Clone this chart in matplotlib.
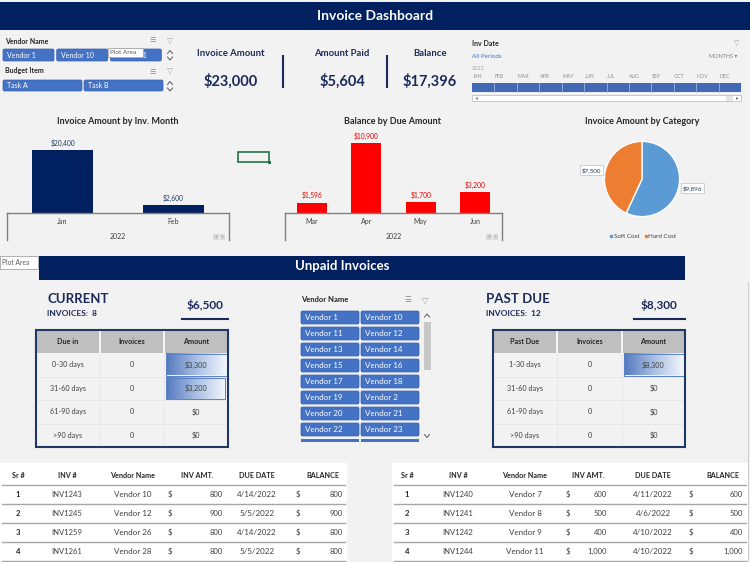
import numpy as np
import matplotlib
matplotlib.use('Agg')
import matplotlib.pyplot as plt
from matplotlib.patches import Rectangle, FancyBboxPatch
from matplotlib.colors import LinearSegmentedColormap

plt.rcParams['font.family'] = ['Lato', 'DejaVu Sans']

# ---------------- data ----------------
dashboard_title = 'Invoice Dashboard'
section_title = 'Unpaid Invoices'
kpi_labels = ['Invoice Amount', 'Amount Paid', 'Balance']
kpi_values = [23000, 5604, 17396]

top_vendor_buttons = ['Vendor 1', 'Vendor 10', 'Vendor 11']
budget_items = ['Task A', 'Task B']
timeline_year = '2022'
timeline_months = ['JAN', 'FEB', 'MAR', 'APR', 'MAY', 'JUN',
                   'JUL', 'AUG', 'SEP', 'OCT', 'NOV', 'DEC']

inv_months = ['Jan', 'Feb']
inv_amounts = [20400, 2600]
due_months = ['Mar', 'Apr', 'May', 'Jun']
due_amounts = [1596, 10900, 1700, 3200]
chart_year = '2022'
categories = ['Soft Cost', 'Hard Cost']
category_amounts = [9896, 7500]

current_buckets = ['0-30 days', '31-60 days', '61-90 days', '>90 days']
current_invoices = [0, 0, 0, 0]
current_amounts = [3300, 3200, 0, 0]
current_total = 6500
current_count = 8
past_buckets = ['1-30 days', '31-60 days', '61-90 days', '>90 days']
past_invoices = [0, 0, 0, 0]
past_amounts = [8300, 0, 0, 0]
past_total = 8300
past_count = 12

slicer_vendors = ['Vendor 1', 'Vendor 10', 'Vendor 11', 'Vendor 12',
                  'Vendor 13', 'Vendor 14', 'Vendor 15', 'Vendor 16',
                  'Vendor 17', 'Vendor 18', 'Vendor 19', 'Vendor 2',
                  'Vendor 20', 'Vendor 21', 'Vendor 22', 'Vendor 23']

table_columns = ['Sr #', 'INV #', 'Vendor Name', 'INV AMT.', 'DUE DATE', 'BALANCE']
cur_sr = [1, 2, 3, 4]
cur_inv = ['INV1243', 'INV1245', 'INV1259', 'INV1261']
cur_vendor = ['Vendor 10', 'Vendor 12', 'Vendor 26', 'Vendor 28']
cur_amt = [800, 900, 800, 800]
cur_due = ['4/14/2022', '5/5/2022', '4/14/2022', '5/5/2022']
cur_bal = [800, 900, 800, 800]
past_sr = [1, 2, 3, 4]
past_inv = ['INV1240', 'INV1241', 'INV1242', 'INV1244']
past_vendor = ['Vendor 7', 'Vendor 8', 'Vendor 9', 'Vendor 11']
past_amt = [600, 500, 400, 1000]
past_due = ['4/11/2022', '4/6/2022', '4/10/2022', '4/10/2022']
past_bal = [600, 500, 400, 1000]

# ---------------- styles ----------------
NAVY = '#002060'
KPI_C = '#1C2A5A'
BTN = '#4472C4'
BG = '#F2F2F2'
W, H = 750, 562

fig = plt.figure(figsize=(7.5, 5.62), dpi=100, facecolor=BG)
bg = fig.add_axes([0, 0, 1, 1])
bg.set_facecolor(BG)
bg.axis('off')


def ax_at(x0, y0, x1, y1):
    a = fig.add_axes([x0 / W, 1 - y1 / H, (x1 - x0) / W, (y1 - y0) / H])
    a.set_facecolor('none')
    return a


def rect(x0, y0, x1, y1, fc, ec='none', lw=0, z=1):
    p = Rectangle((x0, y0), x1 - x0, y1 - y0, facecolor=fc,
                  edgecolor=ec, linewidth=lw, zorder=z)
    bg.add_patch(p)
    return p


def txt(x, y, s, size=6, color='#262626', weight='normal', ha='center', va='center', z=5):
    return bg.text(x, y, s, fontsize=size, color=color, fontweight=weight,
                   ha=ha, va=va, zorder=z)


def button(x0, y0, x1, y1, label, size=5.0):
    bg.add_patch(FancyBboxPatch((x0, y0), x1 - x0, y1 - y0,
                                boxstyle='round,pad=0,rounding_size=1.5',
                                facecolor=BTN, edgecolor='#3A63AE', linewidth=0.5, zorder=3))
    return txt(x0 + 4, (y0 + y1) / 2, label, size, 'white', ha='left', z=4)


def chevron(x, y, up=True, color='#595959'):
    d = -1 if up else 1
    bg.plot([x - 2.5, x, x + 2.5], [y - d * 1.5, y + d * 1.5, y - d * 1.5],
            color=color, lw=0.7, zorder=4)


# ---------------- top title bar ----------------
rect(0, 2, W, 30, NAVY)
txt(375, 16, dashboard_title, 10, 'white', 'bold')

# ---------------- top slicers ----------------
txt(5, 41, 'Vendor Name', 5, '#262626', 'bold', ha='left')
txt(153, 40, '☰', 5, '#8C8C8C')
txt(170, 40, '▽', 5.5, '#A6A6A6')
for i, v in enumerate(top_vendor_buttons):
    x0 = 3 + i * 53.7
    t = button(x0, 49, x0 + 51, 61, v, 5.0)
    if i == 2:
        # the part of this label lying under the tooltip is hidden
        clip = Rectangle((143.5, 44), 25, 20, transform=bg.transData)
        t.set_clip_path(clip)
chevron(170, 52, True)
chevron(170, 58.5, False)
rect(108, 48, 143, 57, 'white', ec='#A6A6A6', lw=0.6, z=8)
txt(110.5, 52.5, 'Plot Area', 4.6, '#595959', ha='left', z=9)

txt(5, 71, 'Budget Item', 5, '#262626', 'bold', ha='left')
txt(153, 71, '☰', 5, '#8C8C8C')
txt(170, 71, '▽', 5.5, '#A6A6A6')
for i, v in enumerate(budget_items):
    x0 = 3 + i * 81
    button(x0, 80, x0 + 79, 91, v, 5.0)
chevron(170, 83, True)
chevron(170, 89.5, False)

# ---------------- KPIs ----------------
kpi_x = [231, 342, 430]
for x, lab, val in zip(kpi_x, kpi_labels, kpi_values):
    txt(x, 54, lab, 6.8, KPI_C, 'bold')
    txt(x, 81, f'${val:,}', 10.5, KPI_C, 'bold')
for x in [283, 387]:
    bg.plot([x, x], [56, 87], color=KPI_C, lw=1.5, zorder=3)

# ---------------- timeline ----------------
txt(472, 44, 'Inv Date', 5, '#262626', 'bold', ha='left')
txt(737, 43, '▽', 5, '#A6A6A6')
txt(472, 57, 'All Periods', 4.5, BTN, ha='left')
txt(737, 57, 'MONTHS ▾', 4, '#7F7F7F', ha='right')
txt(472, 68, timeline_year, 4, '#A6A6A6', ha='left')
tl0, tl1 = 472, 741
seg = (tl1 - tl0) / len(timeline_months)
for i, m in enumerate(timeline_months):
    txt(tl0 + i * seg + 0.5, 77, m, 3.7, '#8C8C8C', ha='left')
rect(tl0, 83, tl1, 92, '#4169B5', z=2)
for i in range(1, len(timeline_months)):
    bg.plot([tl0 + i * seg] * 2, [83, 92], color='#9DB3DD', lw=0.6, zorder=3)
rect(tl0, 95, tl1, 101, 'white', ec='#BFBFBF', lw=0.6, z=2)
txt(476, 98, '◂', 4, '#7F7F7F', z=3)
txt(737, 98, '▸', 4, '#7F7F7F', z=3)
rect(726, 95.5, 733, 100.5, '#E6E6E6', z=3)

# ---------------- chart titles ----------------
txt(118, 121, 'Invoice Amount by Inv. Month', 6.5, '#262626', 'bold')
txt(393, 121, 'Balance by Due Amount', 6.5, '#262626', 'bold')
txt(642, 121, 'Invoice Amount by Category', 6.5, '#262626', 'bold')

# selected cell marker
rect(238, 152, 269, 162, 'none', ec='#217346', lw=1.2, z=3)
rect(267.5, 160.5, 270.5, 163.5, '#217346', z=4)


def bar_chart(ax, cats, vals, color, label_color, headroom):
    x = np.arange(len(cats))
    ax.bar(x, vals, width=0.55, color=color, zorder=2)
    ax.set_xlim(-0.5, len(cats) - 0.5)
    ax.set_ylim(0, max(vals) * headroom)
    for xi, v in zip(x, vals):
        ax.annotate(f'${v:,}', (xi, v), xytext=(0, 2.5), textcoords='offset points',
                    ha='center', va='bottom', fontsize=4.8, color=label_color)
    for s in ['top', 'right', 'left']:
        ax.spines[s].set_visible(False)
    ax.spines['bottom'].set_color('#7F7F7F')
    ax.spines['bottom'].set_linewidth(1)
    ax.set_yticks([])
    ax.set_xticks(x, cats)
    ax.tick_params(axis='x', length=0, pad=3.5, labelsize=5, labelcolor='#404040')
    for xe in [0, 1]:
        ax.plot([xe, xe], [0, -0.325], transform=ax.transAxes, clip_on=False,
                color='#7F7F7F', lw=1)
    ax.text(0.5, -0.28, chart_year, transform=ax.transAxes, ha='center', va='center',
            fontsize=5, color='#404040')


ax1 = ax_at(7, 130, 229, 213)
bar_chart(ax1, inv_months, inv_amounts, NAVY, '#1F3864', 1.32)
ax2 = ax_at(285, 130, 502, 213)
bar_chart(ax2, due_months, due_amounts, '#FF0000', '#E00000', 1.186)

for bx in [213, 486]:
    rect(bx, 234, bx + 5.5, 240, '#D9D9D9', z=3)
    rect(bx + 6.5, 234, bx + 12, 240, '#D9D9D9', z=3)
    txt(bx + 2.75, 237, '+', 3.5, '#7F7F7F', z=4)
    txt(bx + 9.25, 237, '−', 3.5, '#7F7F7F', z=4)

# pie
axp = ax_at(642 - 47, 179 - 47, 642 + 47, 179 + 47)
wedges, texts = axp.pie(category_amounts, labels=[f'${v:,}' for v in category_amounts],
                        colors=['#5B9BD5', '#ED7D31'], startangle=90, counterclock=False,
                        labeldistance=1.1,
                        wedgeprops=dict(edgecolor='white', linewidth=1),
                        textprops=dict(fontsize=4.5, color='#1F3864'))
for t in texts:
    t.set_bbox(dict(boxstyle='square,pad=0.3', facecolor='white', edgecolor='#BFBFBF', linewidth=0.5))
axp.set_xlim(-1.25, 1.25)
axp.set_ylim(-1.25, 1.25)
leg_x = [611, 645.5]
for lx, cat, col in zip(leg_x, categories, ['#5B9BD5', '#ED7D31']):
    bg.plot([lx], [236], marker='o', ms=1.6, color=col, zorder=4)
    txt(lx + 3, 236, cat, 4.5, '#404040', ha='left')

# ---------------- unpaid invoices bar ----------------
rect(39, 256, 685, 280, NAVY)
txt(342, 266, section_title, 9.5, 'white', 'bold')
rect(0, 256, 38, 269, 'white', ec='#A6A6A6', lw=0.6, z=8)
txt(2, 262.5, 'Plot Area', 4.8, '#595959', ha='left', z=9)
bg.plot([748, 748], [282, 562], color='#D0D0D0', lw=0.8, zorder=1)

grad_cmap = LinearSegmentedColormap.from_list('db', ['#5479BF', '#A9BFE3', '#F4F7FC'])
grad = np.linspace(0, 1, 256).reshape(1, -1)


def bucket_table(x0, x1, cols, header, buckets, counts, amounts):
    y0, yh, y1 = 330, 353, 447
    rect(x0, y0, x1, yh, '#BFBFBF', z=2)
    for c in cols:
        bg.plot([c, c], [y0, yh], color='white', lw=1.2, zorder=3)
        bg.plot([c, c], [yh, y1], color='#E6E6E6', lw=0.6, zorder=2)
    row_h = (y1 - yh) / len(buckets)
    cx = [(x0 + cols[0]) / 2, (cols[0] + cols[1]) / 2, (cols[1] + x1) / 2]
    for j, hname in enumerate(header):
        txt(cx[j], (y0 + yh) / 2, hname, 5.2, '#262626', 'bold')
    amax = max(amounts)
    for i, (b, c, a) in enumerate(zip(buckets, counts, amounts)):
        ry0 = yh + i * row_h
        ry1 = ry0 + row_h
        cy = (ry0 + ry1) / 2
        if i > 0:
            bg.plot([x0, x1], [ry0, ry0], color='#E6E6E6', lw=0.6, zorder=2)
        if a > 0:
            bx0 = cols[1] + 1.5
            bx1 = bx0 + (x1 - 1.5 - bx0) * a / amax
            bg.imshow(grad, cmap=grad_cmap, extent=(bx0, bx1, ry1 - 1, ry0 + 1),
                      aspect='auto', zorder=3, interpolation='bilinear')
            rect(bx0, ry0 + 1, bx1, ry1 - 1, 'none', ec='#5B82C5', lw=0.7, z=4)
        txt(cx[0], cy, b, 5.2, '#404040')
        txt(cx[1], cy, str(c), 5.2, '#404040')
        txt(cx[2], cy, f'${a:,}', 5.2, '#404040')
    rect(x0, y0, x1, y1, 'none', ec='#1F3864', lw=1.5, z=6)


# current block
txt(47, 299, 'CURRENT', 9.5, KPI_C, 'bold', ha='left')
txt(47, 314, f'INVOICES:  {current_count}', 6, KPI_C, 'bold', ha='left')
txt(205, 305, f'${current_total:,}', 8.5, KPI_C, 'bold')
bg.plot([182, 228], [319, 319], color=KPI_C, lw=1.5)
bucket_table(36, 228, [100, 164], ['Due in', 'Invoices', 'Amount'],
             current_buckets, current_invoices, current_amounts)

# past due block
txt(486, 299, 'PAST DUE', 9.5, KPI_C, 'bold', ha='left')
txt(486, 314, f'INVOICES:  {past_count}', 6, KPI_C, 'bold', ha='left')
txt(659, 305, f'${past_total:,}', 8.5, KPI_C, 'bold')
bg.plot([634, 685], [319, 319], color=KPI_C, lw=1.5)
bucket_table(493, 685, [557, 622], ['Past Due', 'Invoices', 'Amount'],
             past_buckets, past_invoices, past_amounts)

# middle vendor slicer
txt(301, 300, 'Vendor Name', 5.5, '#262626', 'bold', ha='left')
txt(408, 300, '☰', 5.5, '#8C8C8C')
txt(425, 300, '▽', 6, '#A6A6A6')
for k, v in enumerate(slicer_vendors):
    r, c = divmod(k, 2)
    bx0 = 301 + c * 60
    by0 = 311 + r * 16
    button(bx0, by0, bx0 + 58, by0 + 13, v, 5.8)
for c in range(2):
    rect(301 + c * 60, 439, 359 + c * 60, 441.5, BTN, z=3)
chevron(427, 315.5, True)
chevron(427, 436, False)
rect(424, 322, 431, 370, '#C8C8C8', z=2)


# ---------------- bottom tables ----------------
def invoice_table(x0, x1, hdr_x, pos, sr, inv, vend, amt, due, bal):
    rect(x0, 463, x1, 562, 'white', z=1)
    for j, name in enumerate(table_columns):
        txt(hdr_x[j], 475, name, 5.2, '#262626', 'bold')
    for k in range(5):
        bg.plot([x0 + 2, x1 - 2], [484.5 + k * 19] * 2, color='#A6A6A6', lw=1, zorder=2)
    for i in range(len(sr)):
        y = 494.5 + i * 19
        txt(pos['sr'], y, str(sr[i]), 5.5, '#262626', 'bold')
        txt(pos['inv'], y, inv[i], 5.5, '#404040')
        txt(pos['vend'], y, vend[i], 5.8, '#404040')
        txt(pos['d1'], y, '$', 5.5, '#404040', ha='left')
        txt(pos['a'], y, f'{amt[i]:,}', 5.5, '#404040', ha='right')
        txt(pos['due'], y, due[i], 5.8, '#404040')
        txt(pos['d2'], y, '$', 5.5, '#404040', ha='left')
        txt(pos['b'], y, f'{bal[i]:,}', 5.5, '#404040', ha='right')


invoice_table(0, 347, [18, 67, 133, 197, 257, 323],
              dict(sr=18, inv=67, vend=133, d1=168, a=223, due=257, d2=296, b=343),
              cur_sr, cur_inv, cur_vendor, cur_amt, cur_due, cur_bal)
invoice_table(392, 748, [407, 458, 525, 588, 653, 723],
              dict(sr=407, inv=458, vend=525, d1=566, a=607, due=653, d2=689, b=743),
              past_sr, past_inv, past_vendor, past_amt, past_due, past_bal)

bg.set_xlim(0, W)
bg.set_ylim(H, 0)
fig.savefig('out.png', dpi=100, facecolor=BG)
